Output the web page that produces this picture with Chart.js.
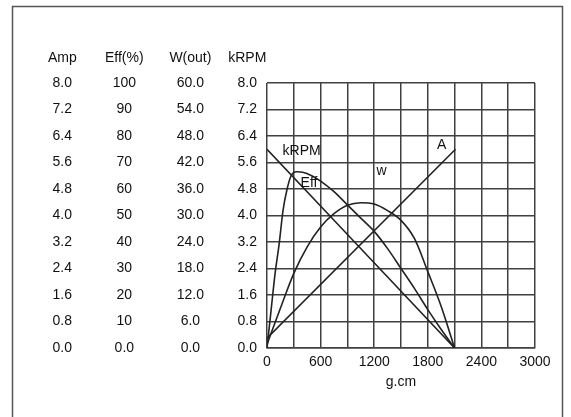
<!DOCTYPE html>
<html>
<head>
<meta charset="utf-8">
<script src="https://cdn.jsdelivr.net/npm/chart.js@4.4.1/dist/chart.umd.min.js"></script>
<style>
  html, body { margin: 0; padding: 0; background: #fff; }
  #wrap { position: relative; width: 571px; height: 417px; }
</style>
</head>
<body>
<div id="wrap"><canvas id="chart" width="571" height="417"></canvas></div>
<script>
// Motor performance curves, torque in g.cm

// Speed (kRPM)
const rpmTorque = [0, 700, 1400, 2100];
const rpmValues = [6.0, 4.0, 2.0, 0.0];

// Current (Amp)
const ampTorque = [0, 2110];
const ampValues = [0.3, 6.0];

// Output power (W)
const wattTorque = [0, 150, 300, 450, 600, 750, 900, 1050, 1200, 1350, 1500, 1650, 1800, 1950, 2100];
const wattValues = [0.8, 9.0, 16.9, 22.9, 27.4, 30.4, 32.3, 32.9, 32.6, 31.1, 28.9, 24.8, 17.3, 9.4, 0];

// Efficiency (%)
const effTorque = [0, 45, 90, 135, 180, 225, 270, 330, 400, 500, 600, 750, 900, 1050, 1200, 1350, 1500, 1650, 1800, 1950, 2100];
const effValues = [0, 14, 28, 39, 52, 60, 65, 66.5, 66.3, 65, 63, 59, 54, 49, 44, 37.5, 30, 22.5, 14.5, 7, 0];

// Tick values and labels
const torqueTicks = [0, 300, 600, 900, 1200, 1500, 1800, 2100, 2400, 2700, 3000];
const torqueLabels = ['0', '', '600', '', '1200', '', '1800', '', '2400', '', '3000'];
const ampTicks = [0, 0.8, 1.6, 2.4, 3.2, 4.0, 4.8, 5.6, 6.4, 7.2, 8.0];
const ampLabels = ['0.0', '0.8', '1.6', '2.4', '3.2', '4.0', '4.8', '5.6', '6.4', '7.2', '8.0'];
const effTicks = [0, 10, 20, 30, 40, 50, 60, 70, 80, 90, 100];
const effLabels = ['0.0', '10', '20', '30', '40', '50', '60', '70', '80', '90', '100'];
const wattTicks = [0, 6, 12, 18, 24, 30, 36, 42, 48, 54, 60];
const wattLabels = ['0.0', '6.0', '12.0', '18.0', '24.0', '30.0', '36.0', '42.0', '48.0', '54.0', '60.0'];
const rpmTicks = [0, 0.8, 1.6, 2.4, 3.2, 4.0, 4.8, 5.6, 6.4, 7.2, 8.0];
const rpmLabels = ['0.0', '0.8', '1.6', '2.4', '3.2', '4.0', '4.8', '5.6', '6.4', '7.2', '8.0'];

// Column headers above the y axes
const axisHeaders = [
  { axis: 'yAmp', text: 'Amp' },
  { axis: 'yEff', text: 'Eff(%)' },
  { axis: 'yWatt', text: 'W(out)' },
  { axis: 'yRpm', text: 'kRPM' }
];

// Curve names written inside the plot (torque, kRPM-scale)
const curveLabels = [
  { text: 'kRPM', x: 388, y: 5.93 },
  { text: 'Eff', x: 470, y: 4.98 },
  { text: 'w', x: 1282, y: 5.33 },
  { text: 'A', x: 1956, y: 6.13 }
];

const FONT = '"Liberation Sans", Arial, sans-serif';
const textColor = '#111';
const gridColor = '#404040';
const curveColor = '#222';

const toPoints = (xs, ys) => xs.map((x, i) => ({ x: x, y: ys[i] }));

// Build a fixed y axis with its own tick list
const makeYAxis = (ticks, labels, max, weight, width, pad, drawGrid) => ({
  type: 'linear',
  position: 'left',
  min: 0,
  max: max,
  weight: weight,
  afterBuildTicks: (scale) => { scale.ticks = ticks.map(v => ({ value: v })); },
  afterFit: (scale) => { scale.width = width; },
  grid: {
    display: drawGrid,
    drawOnChartArea: drawGrid,
    drawTicks: false,
    color: gridColor,
    lineWidth: 1.5
  },
  border: { display: false },
  ticks: {
    padding: pad,
    crossAlign: 'center',
    color: textColor,
    font: { family: FONT, size: 14 },
    callback: (value, index) => labels[index]
  }
});

const framePlugin = {
  id: 'frame',
  beforeDraw(chart) {
    const ctx = chart.ctx;
    ctx.save();
    ctx.fillStyle = '#fff';
    ctx.fillRect(0, 0, chart.width, chart.height);
    ctx.strokeStyle = '#555';
    ctx.lineWidth = 1.5;
    ctx.beginPath();
    ctx.moveTo(12.5, chart.height);
    ctx.lineTo(12.5, 6.5);
    ctx.lineTo(562.5, 6.5);
    ctx.lineTo(562.5, chart.height);
    ctx.stroke();
    ctx.restore();
  }
};

const textPlugin = {
  id: 'texts',
  afterDraw(chart) {
    const ctx = chart.ctx;
    ctx.save();
    ctx.font = '14px ' + FONT;
    ctx.fillStyle = textColor;
    ctx.textAlign = 'center';
    ctx.textBaseline = 'middle';

    // headers centred over each tick column
    axisHeaders.forEach(h => {
      const scale = chart.scales[h.axis];
      const widest = Math.max(...scale.ticks.map(t => ctx.measureText(t.label).width));
      const x = scale.right - scale.options.ticks.padding - widest / 2;
      ctx.fillText(h.text, x, chart.chartArea.top - 25);
    });

    // curve names
    const xs = chart.scales.x;
    const ys = chart.scales.yRpm;
    curveLabels.forEach(l => {
      ctx.fillText(l.text, xs.getPixelForValue(l.x), ys.getPixelForValue(l.y));
    });
    ctx.restore();
  }
};

const lineStyle = {
  borderColor: curveColor,
  borderWidth: 1.6,
  pointRadius: 0,
  fill: false
};

new Chart(document.getElementById('chart'), {
  type: 'line',
  data: {
    datasets: [
      { ...lineStyle, label: 'kRPM', data: toPoints(rpmTorque, rpmValues), yAxisID: 'yRpm', tension: 0 },
      { ...lineStyle, label: 'A', data: toPoints(ampTorque, ampValues), yAxisID: 'yAmp', tension: 0 },
      { ...lineStyle, label: 'W', data: toPoints(wattTorque, wattValues), yAxisID: 'yWatt', cubicInterpolationMode: 'monotone' },
      { ...lineStyle, label: 'Eff', data: toPoints(effTorque, effValues), yAxisID: 'yEff', cubicInterpolationMode: 'monotone' }
    ]
  },
  options: {
    responsive: false,
    animation: false,
    layout: { padding: { left: 20, right: 36, top: 83, bottom: 24 } },
    plugins: {
      legend: { display: false },
      tooltip: { enabled: false }
    },
    scales: {
      x: {
        type: 'linear',
        min: 0,
        max: 3000,
        afterBuildTicks: (scale) => { scale.ticks = torqueTicks.map(v => ({ value: v })); },
        afterFit: (scale) => { scale.height = 45; },
        grid: { color: gridColor, lineWidth: 1.5, drawTicks: false },
        border: { color: gridColor, width: 1.5 },
        ticks: {
          padding: 6,
          maxRotation: 0,
          autoSkip: false,
          color: textColor,
          font: { family: FONT, size: 14 },
          callback: (value, index) => torqueLabels[index]
        },
        title: {
          display: true,
          text: 'g.cm',
          color: textColor,
          font: { family: FONT, size: 14 },
          padding: { top: 0, bottom: 2 }
        }
      },
      yRpm: makeYAxis(rpmTicks, rpmLabels, 8, 0, 40, 10, true),
      yWatt: makeYAxis(wattTicks, wattLabels, 60, 1, 67, 23, false),
      yEff: makeYAxis(effTicks, effLabels, 100, 2, 62, 24, false),
      yAmp: makeYAxis(ampTicks, ampLabels, 8, 3, 78, 26, false)
    }
  },
  plugins: [framePlugin, textPlugin]
});
</script>
</body>
</html>
